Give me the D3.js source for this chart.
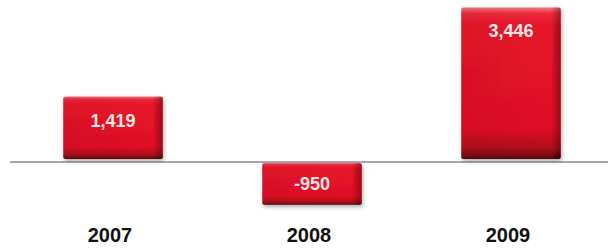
<!DOCTYPE html>
<html>
<head>
<meta charset="utf-8">
<script src="https://cdn.jsdelivr.net/npm/d3@7"></script>
<style>
  body { margin: 0; background: #fff; }
  text { font-family: "Liberation Sans", Arial, sans-serif; font-weight: bold; }
</style>
</head>
<body>
<svg id="chart" width="608" height="248"></svg>
<script>
// data
const years = ['2007', '2008', '2009'];
const values = [1419, -950, 3446];
const valueLabels = ['1,419', '-950', '3,446'];

const svg = d3.select('#chart');

const xScale = d3.scaleBand()
  .domain(years)
  .range([13.5, 610.5])
  .paddingInner(0.5)
  .paddingOuter(0.25);

const yScale = d3.scaleLinear().domain([-950, 3446]).range([200.8, 7.4]);

const defs = svg.append('defs');

// glossy red bar gradient
const grad = defs.append('linearGradient')
  .attr('id', 'barGrad')
  .attr('x1', 0).attr('y1', 0).attr('x2', 0).attr('y2', 1);
grad.append('stop').attr('offset', '0%').attr('stop-color', '#f27a86');
grad.append('stop').attr('offset', '4%').attr('stop-color', '#ee2a3c');
grad.append('stop').attr('offset', '12%').attr('stop-color', '#e8142a');
grad.append('stop').attr('offset', '80%').attr('stop-color', '#e11026');
grad.append('stop').attr('offset', '93%').attr('stop-color', '#b00a1a');
grad.append('stop').attr('offset', '100%').attr('stop-color', '#5a0610');

const side = defs.append('linearGradient')
  .attr('id', 'sideGrad')
  .attr('x1', 0).attr('y1', 0).attr('x2', 1).attr('y2', 0);
side.append('stop').attr('offset', '0%').attr('stop-color', '#000').attr('stop-opacity', 0.05);
side.append('stop').attr('offset', '90%').attr('stop-color', '#000').attr('stop-opacity', 0);
side.append('stop').attr('offset', '100%').attr('stop-color', '#000').attr('stop-opacity', 0.35);

const shadow = defs.append('filter').attr('id', 'shadow')
  .attr('x', '-10%').attr('y', '-10%').attr('width', '130%').attr('height', '130%');
shadow.append('feGaussianBlur').attr('in', 'SourceAlpha').attr('stdDeviation', 2);
shadow.append('feOffset').attr('dx', 1).attr('dy', 2).attr('result', 'blur');
shadow.append('feComponentTransfer').append('feFuncA').attr('type', 'linear').attr('slope', 0.35);
const merge = shadow.append('feMerge');
merge.append('feMergeNode');
merge.append('feMergeNode').attr('in', 'SourceGraphic');

const data = years.map((y, i) => ({ year: y, value: values[i], label: valueLabels[i] }));
const zero = yScale(0);

// baseline
svg.append('line')
  .attr('x1', 10).attr('x2', 608)
  .attr('y1', zero + 3).attr('y2', zero + 3)
  .style('stroke', '#a8a8a8')
  .style('stroke-width', 2);

const barTop = (d) => (d.value >= 0 ? yScale(d.value) : zero + 4);
const barH = (d) => (d.value >= 0 ? zero - yScale(d.value) : yScale(d.value) - zero);

const bars = svg.selectAll('.bar')
  .data(data)
  .enter()
  .append('g')
  .classed('bar', true)
  .attr('filter', 'url(#shadow)');

bars.append('rect')
  .attr('x', (d) => xScale(d.year))
  .attr('y', barTop)
  .attr('width', xScale.bandwidth())
  .attr('height', barH)
  .attr('rx', 2)
  .style('fill', 'url(#barGrad)');

bars.append('rect')
  .attr('x', (d) => xScale(d.year))
  .attr('y', barTop)
  .attr('width', xScale.bandwidth())
  .attr('height', barH)
  .attr('rx', 2)
  .style('fill', 'url(#sideGrad)');

// value labels
svg.selectAll('.val')
  .data(data)
  .enter()
  .append('text')
  .classed('val', true)
  .attr('x', (d) => xScale(d.year) + xScale.bandwidth() / 2)
  .attr('y', (d) => barTop(d) + (d.value >= 0 ? 30 : 27))
  .attr('text-anchor', 'middle')
  .style('font-size', '18px')
  .style('fill', '#fbe4e4')
  .text((d) => d.label);

// year labels
svg.selectAll('.year')
  .data(data)
  .enter()
  .append('text')
  .classed('year', true)
  .attr('x', (d) => xScale(d.year) + xScale.bandwidth() / 2 - 3)
  .attr('y', 242)
  .attr('text-anchor', 'middle')
  .style('font-size', '20px')
  .style('fill', '#111')
  .text((d) => d.year);
</script>
</body>
</html>
